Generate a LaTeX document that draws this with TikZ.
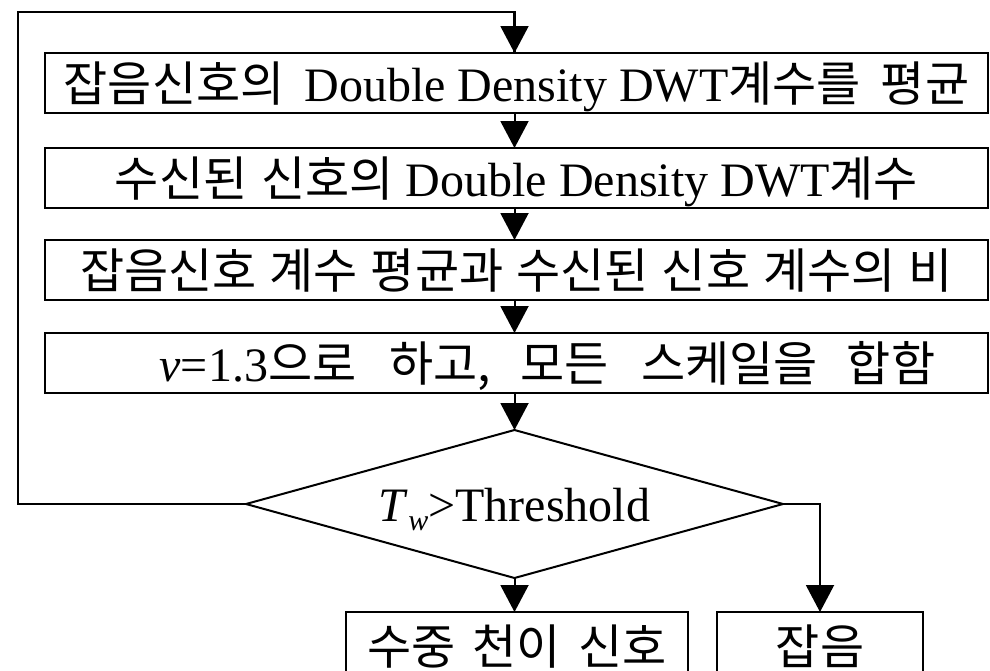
\documentclass[tikz,border=0pt]{standalone}
\usepackage{fontspec}
\setmainfont{Liberation Serif}
\newfontfamily\kr{Noto Sans CJK KR}
\newcommand\gap[1][14pt]{\hspace{#1}}
\usetikzlibrary{arrows.meta,shapes.geometric}

\tikzset{
  stepbox/.style={draw, line width=2.5pt, rectangle, inner sep=0pt, outer sep=0pt,
    minimum width=943pt, minimum height=60pt, text height=42pt, text depth=6pt,
    font=\fontsize{48}{58}\selectfont},
  endbox/.style={draw, line width=2.5pt, rectangle, inner sep=0pt, outer sep=0pt,
    minimum height=90pt, text height=42pt, text depth=28pt,
    font=\fontsize{48}{58}\selectfont},
  decide/.style={draw, line width=2pt, diamond, aspect=3.63, inner sep=0pt, outer sep=0pt,
    minimum width=537pt, minimum height=148pt, text height=36pt, text depth=2pt,
    font=\fontsize{48}{58}\selectfont},
  arr/.style={line width=2pt, -{Triangle[length=27pt,width=28pt]}},
  link/.style={line width=2.5pt}
}

\begin{document}
\begin{tikzpicture}[x=1pt,y=-1pt]
  \useasboundingbox (0,0) rectangle (990,670);
  \clip (0,0) rectangle (990,670);

  % processing steps
  \node[stepbox] (b1) at (516.5,83)
    {{\kr 잡음신호의}\gap[20pt]Double Density DWT{\kr 계수를\gap[20pt]평균}};
  \node[stepbox] (b2) at (516.5,178)
    {{\kr 수신된\gap 신호의} Double Density DWT{\kr 계수}};
  \node[stepbox] (b3) at (516.5,270)
    {\kr 잡음신호\gap[13pt]계수\gap[13pt]평균과\gap[13pt]수신된\gap[13pt]신호\gap[13pt]계수의\gap[13pt]비};
  % this line sits a little right of centre
  \node[stepbox] (b4) at (516.5,363)
    {\hspace{62pt}\textit{v}=1.3{\kr 으로\gap[33pt]하고,\gap[29pt]모든\gap[33pt]스케일을\gap[29pt]합함}};

  % decision
  \node[decide] (dia) at (514.5,504)
    {\textit{T}\raisebox{-9pt}{\fontsize{30}{30}\selectfont\itshape w}>Threshold};

  % outcomes
  \node[endbox, minimum width=342pt] (b5) at (517,657) {\kr 수중\gap[17pt]천이\gap[17pt]신호};
  \node[endbox, minimum width=206pt] (b6) at (820,657) {\kr 잡음};

  % feedback loop to the first step
  \coordinate (lc) at (18,12);
  \draw[link] (dia.west) -| (lc) -| ([yshift=-1pt]b1.north -| dia.north);
  \draw[arr] (lc -| dia.north) -- (b1.north -| dia.north);

  % main flow
  \draw[arr] (b1.south -| dia.north) -- (b2.north -| dia.north);
  \draw[arr] (b2.south -| dia.north) -- (b3.north -| dia.north);
  \draw[arr] (b3.south -| dia.north) -- (b4.north -| dia.north);
  \draw[arr] (b4.south -| dia.north) -- (dia.north);
  \draw[arr] (dia.south) -- (dia.south |- b5.north);
  \draw[arr] (dia.east) -| (b6.north);
\end{tikzpicture}
\end{document}
